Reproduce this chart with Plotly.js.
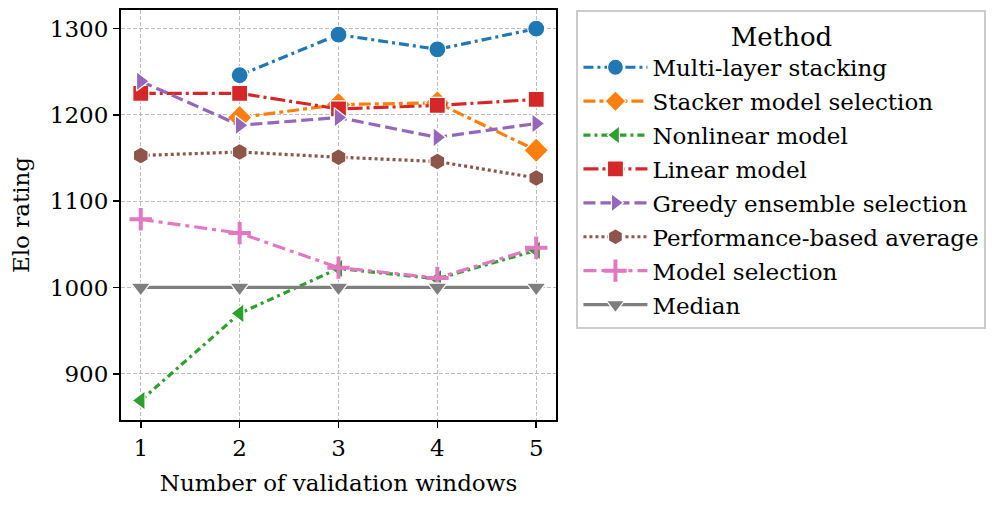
<!DOCTYPE html>
<html><head><meta charset="utf-8">
<script src="https://cdn.plot.ly/plotly-3.0.1.min.js"></script>
<style>body{margin:0;background:#fff}#c{width:998px;height:505px}</style>
</head><body><div id="c"></div>
<script>
const windows = [1, 2, 3, 4, 5];
const multiLayer = [null, 1246, 1293, 1276, 1300];
const stackerSel = [null, 1197, 1212, 1214, 1159];
const nonlinear = [869, 970, 1022, 1010, 1043];
const linear = [1225, 1225, 1207, 1211, 1218];
const greedy = [1239, 1188, 1197, 1174, 1190];
const perfAvg = [1153, 1157, 1151, 1146, 1127];
const modelSel = [1079, 1063, 1023, 1011, 1046];
const median = [1000, 1000, 1000, 1000, 1000];
const yTicks = [900, 1000, 1100, 1200, 1300];

const FONT = 'DejaVu Serif';
const FS = 23;
const series = [
  {name:'Multi-layer stacking', y:multiLayer, color:'#1f77b4', symbol:'circle', dash:'10px,4px,3px,4px', size:17},
  {name:'Stacker model selection', y:stackerSel, color:'#ff7f0e', symbol:'diamond', dash:'12px,4px,4px,4px', size:19},
  {name:'Nonlinear model', y:nonlinear, color:'#2ca02c', symbol:'triangle-left', dash:'7px,4px,3px,4px', size:17},
  {name:'Linear model', y:linear, color:'#d62728', symbol:'square', dash:'15px,4px,3px,4px', size:16},
  {name:'Greedy ensemble selection', y:greedy, color:'#9467bd', symbol:'triangle-right', dash:'12px,5px', size:17},
  {name:'Performance-based average', y:perfAvg, color:'#8c564b', symbol:'hexagon', dash:'3px,3px', size:17},
  {name:'Model selection', y:modelSel, color:'#e377c2', symbol:'cross-thin', dash:'13px,5px,4px,5px', size:16},
  {name:'Median', y:median, color:'#7f7f7f', symbol:'triangle-down', dash:'solid', size:17}
];
const traces = series.map((s,i)=>({
  type:'scatter', mode:'lines+markers', x:windows, y:s.y, name:s.name,
  legendgroup:'g'+i,
  line:{color:s.color, width:3.2, dash:s.dash},
  marker:{symbol:s.symbol, size:s.size, color:s.color,
    line:{color: s.symbol==='cross-thin' ? s.color : '#fff', width: s.symbol==='cross-thin' ? 4 : 1.2}},
  connectgaps:false
}));
const grid = {showgrid:true, gridcolor:'#bdbdbd', griddash:'4px,2px', gridwidth:1,
  showline:true, linecolor:'#000', linewidth:2, mirror:true,
  ticks:'outside', ticklen:6, tickwidth:1.5, tickcolor:'#000', zeroline:false,
  tickfont:{family:FONT, size:FS}};
const layout = {
  width:998, height:505,
  margin:{l:121, r:442, t:10, b:85},
  paper_bgcolor:'#fff', plot_bgcolor:'#fff',
  font:{family:FONT, size:FS, color:'#000'},
  showlegend:true,
  xaxis:Object.assign({range:[0.8,5.2], tickvals:windows, ticktext:windows.map(String),
    title:{text:'Number of validation windows', font:{family:FONT, size:FS}, standoff:15}}, grid),
  yaxis:Object.assign({range:[846.4,1321.6], tickvals:yTicks, ticktext:yTicks.map(String),
    title:{text:'Elo rating', font:{family:FONT, size:FS}, standoff:14}}, grid),
  legend:{x:1.047, xanchor:'left', y:1, yanchor:'top',
    bgcolor:'#fff', bordercolor:'#cccccc', borderwidth:2,
    font:{family:FONT, size:FS}, traceorder:'grouped', tracegroupgap:1,
    title:{text:'Method', side:'top center', font:{family:FONT, size:26}},
    itemwidth:64}
};
Plotly.newPlot('c', traces, layout, {displayModeBar:false, staticPlot:true});
</script></body></html>
